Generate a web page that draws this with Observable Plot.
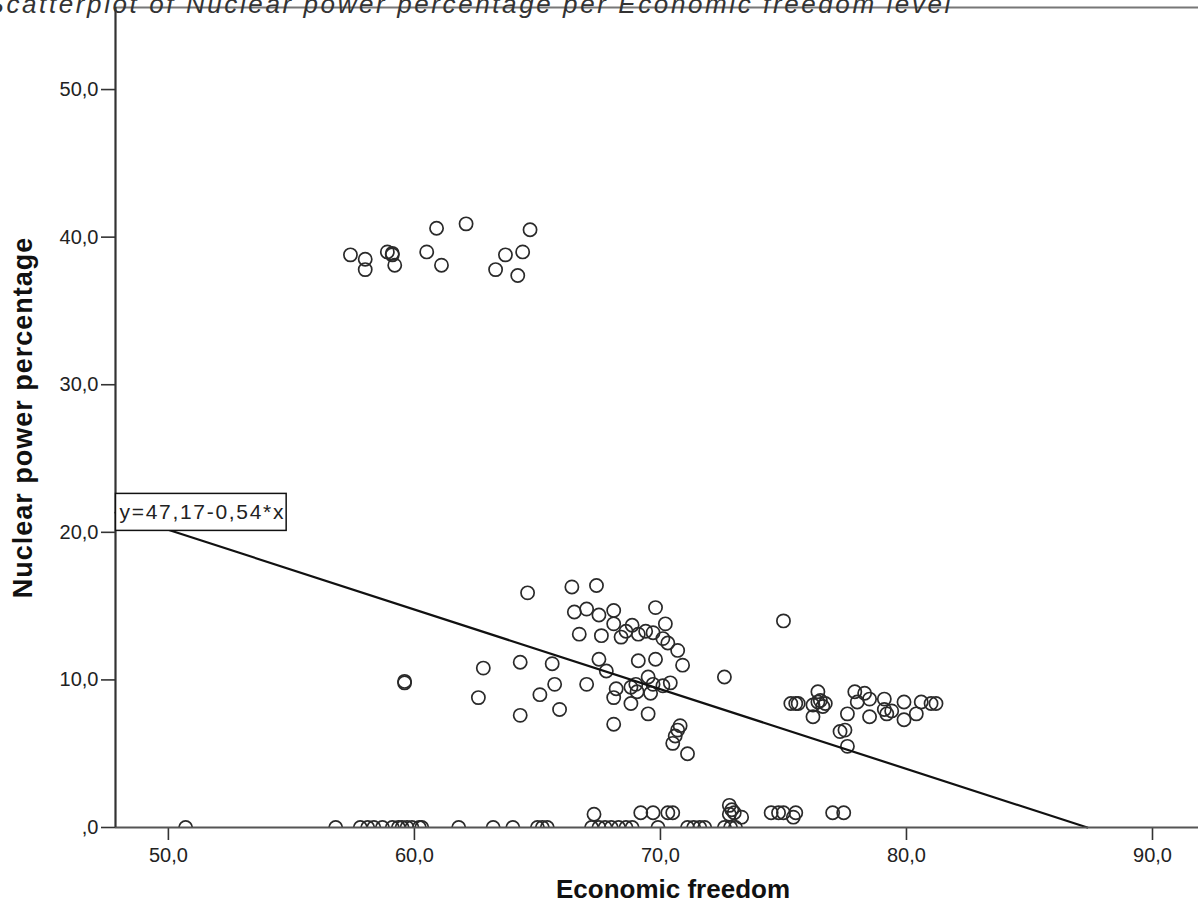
<!DOCTYPE html>
<html><head><meta charset="utf-8">
<script src="https://cdn.jsdelivr.net/npm/d3@7"></script>
<script src="https://cdn.jsdelivr.net/npm/@observablehq/plot@0.6"></script>
<style>body{margin:0;background:#fff;overflow:hidden} svg{display:block}</style>
</head><body><div id="chart"></div>
<script>
// Upper group (~38-41 %)
const freedomHigh = [57.4,58.0,58.0,58.9,59.1,59.1,59.2,60.5,60.9,61.1,62.1,63.3,63.7,64.2,64.4,64.7];
const nuclearHigh = [38.8,38.5,37.8,39.0,38.9,38.8,38.1,39.0,40.6,38.1,40.9,37.8,38.8,37.4,39.0,40.5];
// Middle group (~5-16 %)
const freedomMid = [64.6,66.4,67.4,66.5,67.0,67.5,68.1,68.1,69.8,68.85,68.6,68.4,69.1,69.4,69.7,70.2,70.1,70.3,70.7,66.7,67.6,64.3,65.6,67.5,67.8,69.1,69.8,70.9,72.6,75.0,62.8,62.6,59.6,59.6,65.7,67.0,65.1,68.2,68.1,68.8,69.0,69.05,68.8,69.5,69.7,69.6,70.1,70.4,64.3,65.9,69.5,68.1,70.8,70.7,70.6,70.5,71.1];
const nuclearMid = [15.9,16.3,16.4,14.6,14.8,14.4,14.7,13.8,14.9,13.7,13.3,12.9,13.1,13.3,13.2,13.8,12.8,12.5,12.0,13.1,13.0,11.2,11.1,11.4,10.6,11.3,11.4,11.0,10.2,14.0,10.8,8.8,9.8,9.9,9.7,9.7,9.0,9.4,8.8,9.5,9.7,9.2,8.4,10.2,9.7,9.1,9.6,9.8,7.6,8.0,7.7,7.0,6.9,6.6,6.2,5.7,5.0];
// Right group (~5-9 %)
const freedomRight = [75.3,75.5,75.6,76.4,76.4,76.2,76.5,76.6,76.7,76.2,77.9,78.3,78.5,78.0,77.6,78.5,79.1,79.1,79.2,79.4,79.9,79.9,80.4,80.6,81.0,81.2,77.3,77.5,77.6];
const nuclearRight = [8.4,8.4,8.4,9.2,8.5,8.3,8.6,8.2,8.4,7.5,9.2,9.1,8.7,8.5,7.7,7.5,8.7,8.0,7.7,7.9,8.5,7.3,7.7,8.5,8.4,8.4,6.5,6.6,5.5];
// Bottom group (0 - 1.5 %)
const freedomLow = [50.7,56.8,57.8,58.1,58.35,58.7,59.1,59.35,59.5,59.7,59.9,60.2,60.3,61.8,63.2,64.0,65.0,65.2,65.4,67.2,67.5,67.75,68.0,68.3,68.6,68.85,69.9,71.1,71.35,71.6,71.8,72.6,72.85,73.05,
  67.3,69.2,69.7,70.3,70.5,72.8,72.8,73.0,73.3,72.9,74.5,74.8,75.0,75.5,75.4,77.0,77.45];
const nuclearLow = [0,0,0,0,0,0,0,0,0,0,0,0,0,0,0,0,0,0,0,0,0,0,0,0,0,0,0,0,0,0,0,0,0,0,
  0.9,1.0,1.0,1.0,1.0,1.5,0.9,1.0,0.7,1.2,1.0,1.0,1.0,1.0,0.7,1.0,1.0];

const xTicks = [50,60,70,80,90];
const yTicks = [0,10,20,30,40,50];
const xTickLabels = ["50,0","60,0","70,0","80,0","90,0"];
const yTickLabels = [",0","10,0","20,0","30,0","40,0","50,0"];
const intercept = 47.17, slope = -0.54;
const equationLabel = "y=47,17-0,54*x";
const title = "Scatterplot of Nuclear power percentage per Economic freedom level";
const xLabel = "Economic freedom";
const yLabel = "Nuclear power percentage";
const xDomain = [47.85, 91.87];
const yDomain = [0, 55.56];

const points = [];
[[freedomHigh,nuclearHigh],[freedomMid,nuclearMid],[freedomRight,nuclearRight],[freedomLow,nuclearLow]]
  .forEach(([fx,ny]) => fx.forEach((x,i) => points.push({x, y: ny[i]})));

const xStart = xDomain[0];
const xEnd = -intercept / slope;
const fitLine = [{x: xStart, y: intercept + slope*xStart}, {x: xEnd, y: intercept + slope*xEnd}];

const font = "'Liberation Sans', Arial, sans-serif";
const chart = Plot.plot({
  width: 1198, height: 915,
  marginLeft: 115, marginRight: 0, marginTop: 7, marginBottom: 88,
  style: {fontFamily: font, color: "#222", background: "#fff", overflow: "visible"},
  x: {domain: xDomain},
  y: {domain: yDomain},
  marks: [
    Plot.ruleY([yDomain[1]], {stroke: "#777", strokeWidth: 2}),
    Plot.dot(points, {x: "x", y: "y", r: 6.6, stroke: "#2a2a2a", strokeWidth: 1.7, fill: "none", clip: true}),
    Plot.line(fitLine, {x: "x", y: "y", stroke: "#111", strokeWidth: 2.2}),
    Plot.axisX({ticks: xTicks, tickFormat: (d) => xTickLabels[xTicks.indexOf(d)], tickSize: 13, tickPadding: 7, fontSize: 20, label: null, stroke: "#333", strokeWidth: 1.6}),
    Plot.axisY({ticks: yTicks, tickFormat: (d) => yTickLabels[yTicks.indexOf(d)], tickSize: 14, tickPadding: 3, fontSize: 20, label: null, stroke: "#333", strokeWidth: 1.6}),
    Plot.ruleY([yDomain[0]], {stroke: "#555", strokeWidth: 2.2}),
    Plot.ruleX([xDomain[0]], {stroke: "#333", strokeWidth: 2.2}),
    Plot.text([equationLabel], {x: xStart, y: intercept + slope*xStart, text: d => d, textAnchor: "start", dx: 4, fontSize: 21, fill: "#222"}),
    Plot.text([xLabel], {frameAnchor: "bottom", dx: 16, dy: 62, lineAnchor: "middle", textAnchor: "middle", text: d => d, fontSize: 26, fontWeight: "bold", fill: "#111"}),
    Plot.text([yLabel], {frameAnchor: "left", dx: -92, rotate: -90, lineAnchor: "middle", textAnchor: "middle", text: d => d, fontSize: 27, fontWeight: "bold", fill: "#111"}),
    Plot.text([title], {frameAnchor: "top-left", dx: -129, dy: 5, lineAnchor: "bottom", textAnchor: "start", text: d => d, fontSize: 26, fontStyle: "italic", fill: "#333"})
  ]
});
document.getElementById("chart").appendChild(chart);

const texts = Array.from(chart.querySelectorAll("text"));
const find = (s) => texts.find(t => t.textContent === s);
const titleEl = find(title); if (titleEl) titleEl.setAttribute("letter-spacing", "2.6");
const yl = find(yLabel); if (yl) yl.setAttribute("letter-spacing", "1");
// white box with black border behind the equation label
const eq = find(equationLabel);
if (eq) {
  eq.setAttribute("letter-spacing", "1.7");
  const bb = eq.getBBox();
  const tr = eq.getAttribute("transform");
  const rect = document.createElementNS("http://www.w3.org/2000/svg", "rect");
  rect.setAttribute("x", bb.x - 4); rect.setAttribute("y", bb.y - 7);
  rect.setAttribute("width", bb.width + 5); rect.setAttribute("height", bb.height + 14);
  rect.setAttribute("fill", "#fff"); rect.setAttribute("stroke", "#111"); rect.setAttribute("stroke-width", "1.5");
  if (tr) rect.setAttribute("transform", tr);
  eq.parentNode.insertBefore(rect, eq);
}
</script>
</body></html>
